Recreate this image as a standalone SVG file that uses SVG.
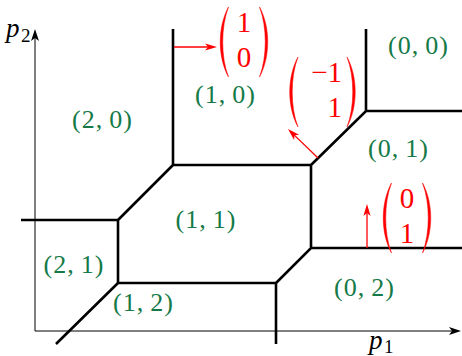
<svg xmlns="http://www.w3.org/2000/svg" width="462" height="356" viewBox="0 0 462 356">
<style>
.curve{fill:none;stroke:#000;stroke-width:2.6;stroke-linecap:butt;stroke-linejoin:miter}
.axis{fill:none;stroke:#000;stroke-width:1}
.vec{fill:none;stroke:#ff0000;stroke-width:1.3}
.lbl{font-family:"Liberation Serif","Times New Roman",serif;font-size:26px;fill:#157a47;text-anchor:middle;letter-spacing:1px}
.num{font-family:"Liberation Serif","Times New Roman",serif;font-size:29px;fill:#ff0000}
.var{font-family:"Liberation Serif","Times New Roman",serif;font-style:italic;font-size:27px;fill:#000}
.sub{font-family:"Liberation Serif","Times New Roman",serif;font-size:19px;fill:#000}
.par{fill:#ff0000;stroke:#ff0000;stroke-width:0.5}
</style>
<defs>
<marker id="ah" markerUnits="userSpaceOnUse" viewBox="0 -5 12 10" refX="5" refY="0" markerWidth="12" markerHeight="10" orient="auto">
<path d="M12,0 L0,-4 L3,0 L0,4 Z" fill="#000"/>
</marker>
<marker id="ahr" markerUnits="userSpaceOnUse" viewBox="0 -5 12 10" refX="5" refY="0" markerWidth="12" markerHeight="10" orient="auto">
<path d="M12,0 L0,-3.6 L3,0 L0,3.6 Z" fill="#ff0000"/>
</marker>
<path id="lp" d="M0,0 C-11,20 -11,50 0,70 C-7.7,50 -7.7,20 0,0 Z"/>
<path id="rp" d="M0,0 C11,20 11,50 0,70 C7.7,50 7.7,20 0,0 Z"/>
</defs>

<g id="axes">
<line class="axis" x1="35" y1="331" x2="35" y2="36" marker-end="url(#ah)"/>
<line class="axis" x1="35" y1="331" x2="454" y2="331" marker-end="url(#ah)"/>
<text class="var" x="6" y="37">p</text><text class="sub" x="21" y="42">2</text>
<text class="var" x="369" y="349">p</text><text class="sub" x="384" y="353">1</text>
</g>

<g id="curve">
<path class="curve" d="M173,29 V165 H311 M173,165 L118,220 M21,220 H118 V283 H276 M118,283 L56,344 M276,283 V344 M276,283 L311,248 H462 M311,165 V248 M311,165 L366,111 H462 M366,111 V29"/>
</g>

<g id="connectors">
<line class="vec" x1="174" y1="47" x2="210" y2="47" marker-end="url(#ahr)"/>
<line class="vec" x1="318" y1="158" x2="293" y2="133.9" marker-end="url(#ahr)"/>
<line class="vec" x1="367" y1="248" x2="367" y2="211" marker-end="url(#ahr)"/>
</g>

<g id="vec10">
<use href="#lp" class="par" x="228.5" y="7"/>
<use href="#rp" class="par" x="259.5" y="7"/>
<text class="num" x="244" y="32" text-anchor="middle">1</text>
<text class="num" x="244" y="67" text-anchor="middle">0</text>
</g>
<g id="vecm11">
<use href="#lp" class="par" x="298" y="57"/>
<use href="#rp" class="par" x="347" y="57"/>
<text class="num" x="342" y="82" text-anchor="end">−1</text>
<text class="num" x="342" y="117" text-anchor="end">1</text>
</g>
<g id="vec01">
<use href="#lp" class="par" x="391.5" y="183"/>
<use href="#rp" class="par" x="422.5" y="183"/>
<text class="num" x="407" y="208" text-anchor="middle">0</text>
<text class="num" x="407" y="243" text-anchor="middle">1</text>
</g>

<g id="region-20"><text class="lbl" x="102.5" y="128">(2,<tspan dx="6">0)</tspan></text></g>
<g id="region-10"><text class="lbl" x="225.5" y="103">(1,<tspan dx="6">0)</tspan></text></g>
<g id="region-00"><text class="lbl" x="418.5" y="54">(0,<tspan dx="6">0)</tspan></text></g>
<g id="region-01"><text class="lbl" x="398.5" y="157">(0,<tspan dx="6">1)</tspan></text></g>
<g id="region-11"><text class="lbl" x="206" y="228">(1,<tspan dx="6">1)</tspan></text></g>
<g id="region-21"><text class="lbl" x="74" y="273">(2,<tspan dx="6">1)</tspan></text></g>
<g id="region-12"><text class="lbl" x="143.5" y="311">(1,<tspan dx="6">2)</tspan></text></g>
<g id="region-02"><text class="lbl" x="364.5" y="296">(0,<tspan dx="6">2)</tspan></text></g>
</svg>
